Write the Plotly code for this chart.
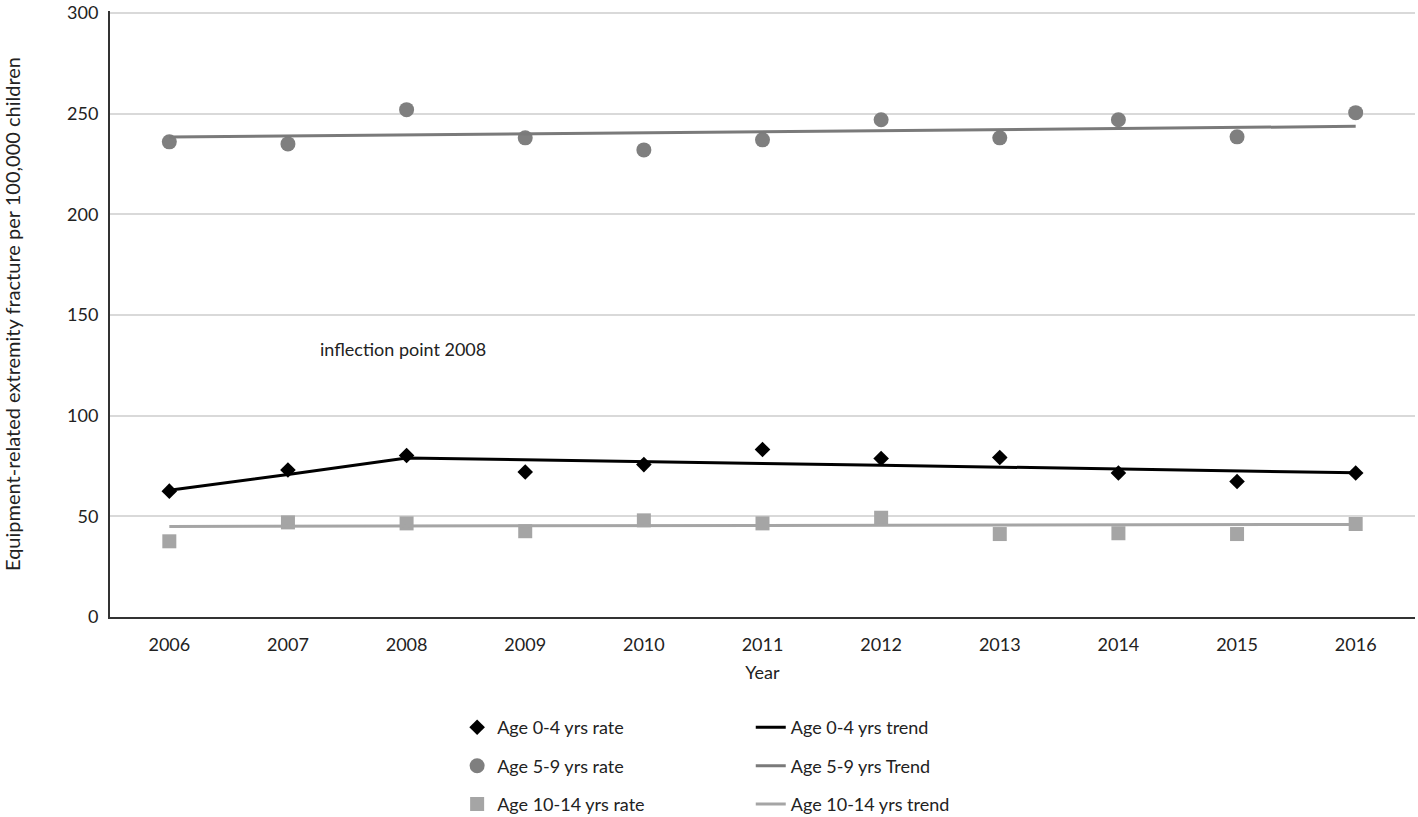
import plotly.graph_objects as go

years = [2006, 2007, 2008, 2009, 2010, 2011, 2012, 2013, 2014, 2015, 2016]

rate_0_4 = [62.5, 73, 80.2, 72, 75.7, 83.2, 78.7, 79.2, 71.5, 67.3, 71.5]
trend_0_4 = [63, 70.8, 79, 78, 77, 76.2, 75.4, 74.5, 73.3, 72.5, 71.6]

rate_5_9 = [236, 235, 252, 238, 232, 237, 247, 238, 247, 238.5, 250.5]
trend_5_9 = [238.4, 238.9, 239.5, 240, 240.5, 241, 241.6, 242.1, 242.6, 243.1, 243.7]

rate_10_14 = [37.6, 47, 46.5, 42.6, 48, 46.5, 49.3, 41.2, 41.6, 41.2, 46.2]
trend_10_14 = [45, 45.1, 45.2, 45.3, 45.4, 45.5, 45.6, 45.7, 45.8, 45.9, 46]

FONT = "Lato"

fig = go.Figure()

# punkty (legenda vlevo)
fig.add_trace(go.Scatter(x=years, y=rate_0_4, mode="markers", name="Age 0-4 yrs rate",
                         marker=dict(symbol="diamond", size=12, color="black"),
                         legend="legend", legendgroup="a"))
fig.add_trace(go.Scatter(x=years, y=rate_5_9, mode="markers", name="Age 5-9 yrs rate",
                         marker=dict(symbol="circle", size=15, color="#7f7f7f"),
                         legend="legend", legendgroup="b"))
fig.add_trace(go.Scatter(x=years, y=rate_10_14, mode="markers", name="Age 10-14 yrs rate",
                         marker=dict(symbol="square", size=14, color="#a5a5a5"),
                         legend="legend", legendgroup="c"))

# trendy (legenda vpravo)
fig.add_trace(go.Scatter(x=years, y=trend_0_4, mode="lines", name="Age 0-4 yrs trend",
                         line=dict(color="black", width=3),
                         legend="legend2", legendgroup="d"))
fig.add_trace(go.Scatter(x=years, y=trend_5_9, mode="lines", name="Age 5-9 yrs Trend",
                         line=dict(color="#7a7a7a", width=3),
                         legend="legend2", legendgroup="e"))
fig.add_trace(go.Scatter(x=years, y=trend_10_14, mode="lines", name="Age 10-14 yrs trend",
                         line=dict(color="#a5a5a5", width=3),
                         legend="legend2", legendgroup="f"))

fig.add_annotation(x=2007.97, y=133, text="inflection point 2008", showarrow=False,
                   font=dict(family=FONT, size=18, color="#222"))

leg = dict(orientation="v", yanchor="top", xanchor="left", tracegroupgap=12,
           font=dict(family=FONT, size=18, color="#222"), bgcolor="rgba(0,0,0,0)",
           xref="paper", yref="paper")

fig.update_layout(
    width=1418, height=817,
    margin=dict(l=110, r=3, t=11, b=200, autoexpand=False),
    plot_bgcolor="white", paper_bgcolor="white",
    font=dict(family=FONT, size=18, color="#222"),
    legend=dict(leg, x=0.266, y=-0.152),
    legend2=dict(leg, x=0.491, y=-0.152),
    xaxis=dict(range=[2005.5, 2016.5], tickmode="array", tickvals=years,
               showgrid=False, showline=True, linecolor="#333", linewidth=2,
               ticks="", ticklabelstandoff=10,
               title=dict(text="Year", font=dict(size=18), standoff=13),
               zeroline=False, automargin=False),
    yaxis=dict(range=[0, 301], tickvals=[0, 50, 100, 150, 200, 250, 300],
               showgrid=True, gridcolor="#d9d9d9", gridwidth=2,
               showline=True, linecolor="#333", linewidth=2, ticks="",
               zeroline=False, automargin=False, ticklabelstandoff=6,
               ticklabeloverflow="allow",
               title=dict(text="Equipment-related extremity fracture per 100,000 children",
                          font=dict(size=20), standoff=47)),
)

# bez okraju stranky, aby graf sedel presne do okna
fig.write_html("out.html", config={"displayModeBar": False},
               post_script="document.body.style.margin='0';")
